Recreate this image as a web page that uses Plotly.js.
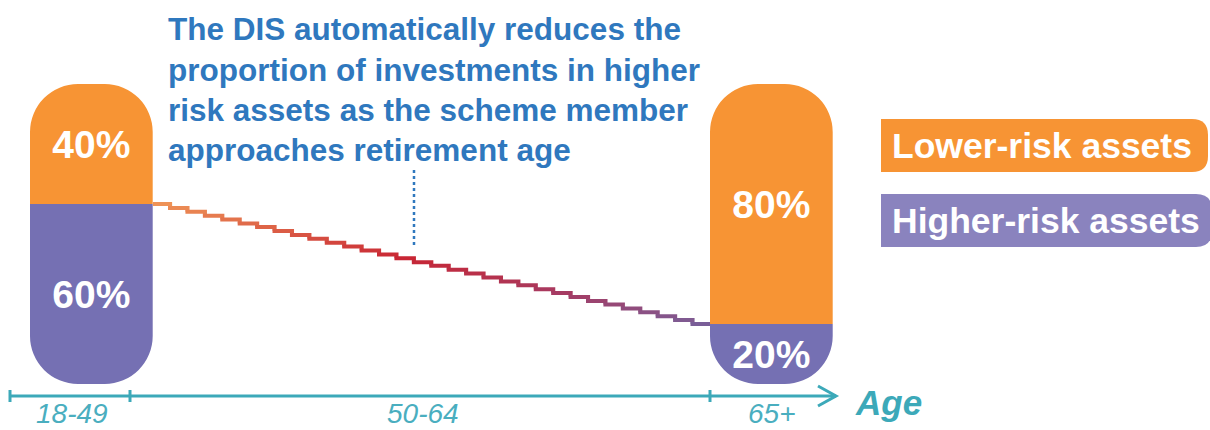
<!DOCTYPE html>
<html><head><meta charset="utf-8">
<script src="https://cdn.plot.ly/plotly-3.0.1.min.js"></script>
<style>html,body{margin:0;padding:0;background:#fff;overflow:hidden}#chart{width:1210px;height:430px}</style>
</head><body><div id="chart"></div>
<script>
// ---------- data ----------
const ageGroups = ['18-49', '50-64', '65+'];
const barGroups = ['18-49', '65+'];
const lowerRiskPct = [40, 80];
const higherRiskPct = [60, 20];
// higher-risk share at each step of the glide path (ages 50-64)
const glidePathHigherRiskPct = [60.0, 58.7, 57.4, 56.1, 54.8, 53.5, 52.3, 51.0, 49.7, 48.4, 47.1, 45.8, 44.5, 43.2, 41.9, 40.6,
  39.4, 38.1, 36.8, 35.5, 34.2, 32.9, 31.6, 30.3, 29.0, 27.7, 26.5, 25.2, 23.9, 22.6, 21.3, 20.0];
const legendLabels = ['Lower-risk assets', 'Higher-risk assets'];
const calloutLines = ['The DIS automatically reduces the', 'proportion of investments in higher',
  'risk assets as the scheme member', 'approaches retirement age'];
const axisTitle = 'Age';

// ---------- layout constants ----------
const W = 1210, H = 430;
const Y_RANGE = [-15.333, 128];            // % axis: 0 at bar bottom, 100 at bar top
const BAR_CENTER = {'18-49': 91.35, '65+': 771.35};
const BAR_WIDTH = 122.7;
const LINE_DOMAIN = [152.7 / W, 710 / W];
const AXIS_Y = 396, AXIS_X0 = 10, AXIS_X1 = 836;
const TICK_X = [10, 130, 710];
const GROUP_LABEL_X = {'18-49': 72, '50-64': 423, '65+': 772};
const ORANGE = '#F79434', PURPLE = '#7570B3', LEG_PURPLE = '#8A83BE';
const TEAL = '#3CA9B9', TEAL_TXT = '#4AAEBF', BLUE = '#2F78BE';
const FONT = 'Liberation Sans, Arial, sans-serif';

const gradStops = [[0, [238, 146, 86]], [0.45, [200, 38, 52]], [0.75, [165, 60, 100]], [1, [122, 94, 152]]];
function gradColor(t) {
  for (let k = 1; k < gradStops.length; k++) {
    if (t <= gradStops[k][0]) {
      const [t0, c0] = gradStops[k - 1], [t1, c1] = gradStops[k];
      const f = (t - t0) / (t1 - t0);
      const c = c0.map((v, j) => Math.round(v + (c1[j] - v) * f));
      return `rgb(${c.join(',')})`;
    }
  }
  return `rgb(${gradStops[gradStops.length - 1][1].join(',')})`;
}

const traces = [];
const layoutAxes = {};
const barText = {family: FONT, size: 39, color: '#fff', weight: 'bold'};
// each pill sits on its own % axis, shifted so that 0 is the lower/higher split
barGroups.forEach((g, k) => {
  const axName = 'y' + (k + 3);
  const split = higherRiskPct[k];
  layoutAxes['yaxis' + (k + 3)] = {range: [Y_RANGE[0] - split, Y_RANGE[1] - split], overlaying: 'y', visible: false, fixedrange: true};
  traces.push({
    type: 'bar', x: [BAR_CENTER[g]], y: [lowerRiskPct[k]], yaxis: axName, width: BAR_WIDTH,
    marker: {color: ORANGE, cornerradius: 48},
    text: [lowerRiskPct[k] + '%'], textposition: 'inside', insidetextanchor: 'middle',
    constraintext: 'none', textangle: 0, textfont: barText, hoverinfo: 'skip', showlegend: false
  });
  traces.push({
    type: 'bar', x: [BAR_CENTER[g]], y: [-higherRiskPct[k]], yaxis: axName, width: BAR_WIDTH,
    marker: {color: PURPLE, cornerradius: 48},
    text: [higherRiskPct[k] + '%'], textposition: 'inside', insidetextanchor: 'middle',
    constraintext: 'none', textangle: 0, textfont: barText, hoverinfo: 'skip', showlegend: false
  });
});

const n = glidePathHigherRiskPct.length;
for (let i = 0; i < n; i++) {
  const v = glidePathHigherRiskPct[i];
  const xs = [i === 0 ? i : i - 0.12, i + 1];
  const ys = [v, v];
  if (i < n - 1) { xs.push(i + 1); ys.push(glidePathHigherRiskPct[i + 1]); }
  traces.push({
    type: 'scatter', mode: 'lines', x: xs, y: ys, xaxis: 'x2', yaxis: 'y',
    line: {color: gradColor(i / (n - 1)), width: 4},
    hoverinfo: 'skip', showlegend: false
  });
}

const shapes = [];
const px = (o) => Object.assign({xref: 'x', yref: 'y2', layer: 'above'}, o);
shapes.push(px({type: 'line', x0: AXIS_X0, x1: AXIS_X1, y0: AXIS_Y, y1: AXIS_Y, line: {color: TEAL, width: 3}}));
TICK_X.forEach(t => shapes.push(px({type: 'line', x0: t, x1: t, y0: AXIS_Y - 6, y1: AXIS_Y + 6, line: {color: TEAL, width: 3}})));
shapes.push(px({type: 'path', path: `M ${AXIS_X1 - 18} ${AXIS_Y - 10} L ${AXIS_X1} ${AXIS_Y} L ${AXIS_X1 - 18} ${AXIS_Y + 10}`, line: {color: TEAL, width: 3}}));
shapes.push(px({type: 'line', x0: 414, x1: 414, y0: 170, y1: 248, line: {color: BLUE, width: 2.5, dash: 'dot'}}));
function legBox(x0, x1, y0, y1, r) {
  return `M ${x0} ${y0} L ${x1 - r} ${y0} Q ${x1} ${y0} ${x1} ${y0 + r} L ${x1} ${y1 - r} Q ${x1} ${y1} ${x1 - r} ${y1} L ${x0} ${y1} Z`;
}
shapes.push(px({type: 'path', path: legBox(881, 1208, 119, 172, 16), fillcolor: ORANGE, line: {width: 0}, layer: 'below'}));
shapes.push(px({type: 'path', path: legBox(881, 1212, 194, 247, 16), fillcolor: LEG_PURPLE, line: {width: 0}, layer: 'below'}));

const annotations = [];
const calloutY = [29, 69.5, 110, 150];
calloutLines.forEach((t, k) => annotations.push({
  xref: 'x', yref: 'y2', x: 166, y: calloutY[k], xanchor: 'left', yanchor: 'middle', showarrow: false,
  text: t, font: {family: FONT, size: 31.5, color: BLUE, weight: 'bold'}
}));
ageGroups.forEach(g => annotations.push({
  xref: 'x', yref: 'y2', x: GROUP_LABEL_X[g], y: 430, xanchor: 'center', yanchor: 'bottom', showarrow: false,
  borderpad: 0, text: g, font: {family: FONT, size: 28, color: TEAL_TXT, style: 'italic'}
}));
annotations.push({
  xref: 'x', yref: 'y2', x: 888, y: 402, xanchor: 'center', yanchor: 'middle', showarrow: false,
  text: axisTitle, font: {family: FONT, size: 35, color: TEAL, weight: 'bold', style: 'italic'}
});
const legY = [145.5, 220.5];
legendLabels.forEach((t, k) => annotations.push({
  xref: 'x', yref: 'y2', x: 890, y: legY[k], xanchor: 'left', yanchor: 'middle', showarrow: false,
  text: t, font: {family: FONT, size: 35.5, color: '#fff', weight: 'bold'}
}));

const layout = Object.assign({
  width: W, height: H, margin: {l: 0, r: 0, t: 0, b: 0},
  paper_bgcolor: '#fff', plot_bgcolor: 'rgba(0,0,0,0)',
  barmode: 'relative', showlegend: false,
  xaxis: {range: [0, W], visible: false, fixedrange: true},
  xaxis2: {range: [0, n], domain: LINE_DOMAIN, anchor: 'y', visible: false, fixedrange: true},
  yaxis: {range: Y_RANGE, visible: false, fixedrange: true},
  yaxis2: {range: [H, 0], overlaying: 'y', visible: false, fixedrange: true},
  shapes, annotations
}, layoutAxes);
Plotly.newPlot('chart', traces, layout, {displayModeBar: false, staticPlot: true});
</script></body></html>
